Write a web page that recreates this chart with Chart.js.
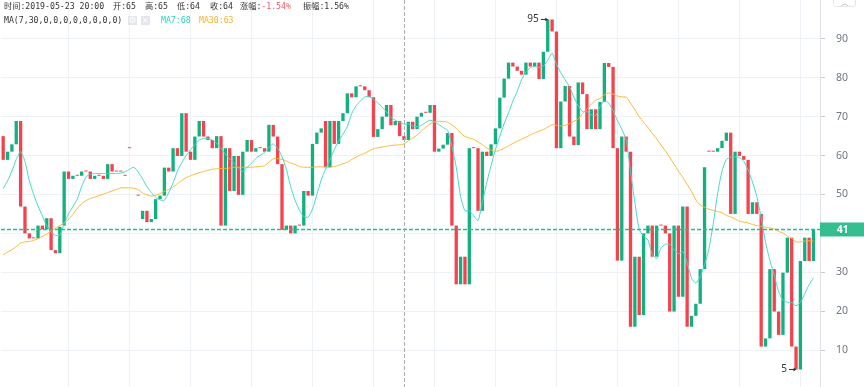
<!DOCTYPE html>
<html>
<head>
<meta charset="utf-8">
<script src="https://cdn.jsdelivr.net/npm/chart.js@4.4.1/dist/chart.umd.min.js"></script>
<style>
  html, body { margin: 0; padding: 0; background: #fff; overflow: hidden; }
  #wrap { position: relative; width: 864px; height: 387px; }
  #chart { position: absolute; left: 0; top: 0; }
  .hd { position: absolute; font-family: "DejaVu Sans Mono", "Noto Sans CJK SC", monospace; font-size: 8.2px; line-height: 13px; color: #333; white-space: nowrap; }
  .ico { position: absolute; top: 16px; width: 9px; height: 9px; background: #e3e7ec; color: #fff; font: 9px/9px "DejaVu Sans", sans-serif; text-align: center; }
  #upbtn { position: absolute; left: 833px; top: -4px; width: 21px; height: 9px; border: 1px solid #e3e6ea; border-radius: 3px; color: #9aa3ad; font: 8px/14px "DejaVu Sans", sans-serif; text-align: center; }
</style>
</head>
<body>
<div id="wrap">
  <canvas id="chart" width="864" height="387"></canvas>
  <div class="hd" style="left:4px;top:0">时间:2019-05-23 20:00</div>
  <div class="hd" style="left:113px;top:0">开:65</div>
  <div class="hd" style="left:145px;top:0">高:65</div>
  <div class="hd" style="left:177px;top:0">低:64</div>
  <div class="hd" style="left:210px;top:0">收:64</div>
  <div class="hd" style="left:240px;top:0">涨幅:<span style="color:#f05a64">-1.54%</span></div>
  <div class="hd" style="left:303px;top:0">振幅:1.56%</div>
  <div class="hd" style="left:4px;top:13.5px">MA(7,30,0,0,0,0,0,0,0,0)</div>
  <div class="ico" style="left:128px">⚙</div>
  <div class="ico" style="left:141px">×</div>
  <div class="hd" style="left:161px;top:13.5px;color:#2cd2bd">MA7:68</div>
  <div class="hd" style="left:199px;top:13.5px;color:#f7b12c">MA30:63</div>
  <div id="upbtn">︿</div>
</div>
<script>
// ==============================
// Data
// ==============================
const opens = [
  65.0, 58.9, 61.0, 62.9, 68.9, 46.9, 40.0, 38.7, 38.7, 42.0,
  41.0, 43.9, 35.7, 34.9, 42.0, 55.9, 54.0, 54.8, 54.8, 55.9,
  55.9, 54.0, 54.8, 54.8, 54.0, 57.8, 55.9, 55.9, 54.8, 61.9,
  null, 49.7, 43.7, 45.8, 42.9, 43.7, 48.8, 49.7, 56.9, 55.9,
  61.9, 59.9, 70.9, 61.0, 58.9, 64.9, 68.9, 64.9, 64.0, 61.9,
  65.0, 42.0, 61.9, 50.9, 59.9, 49.9, 61.0, 64.0, 61.0, 61.9,
  61.9, 61.0, 67.9, 64.9, 57.8, 40.9, 42.0, 40.0, 42.0, 42.0,
  50.9, 49.7, 63.0, 65.9, 68.9, 57.0, 68.9, 63.0, 68.9, 70.9,
  76.0, 75.0, 77.8, 77.8, 76.8, 75.0, 64.8, 66.8, 70.0, 73.0,
  67.8, 68.9, 65.0, 64.0, 68.7, 66.8, 70.0, 71.0, 71.0, 73.0,
  61.0, 61.8, 62.8, 65.8, 42.0, 26.9, 34.0, 26.9, 61.9, 61.9,
  45.8, 61.0, 59.9, 62.9, 67.0, 74.9, 79.8, 83.9, 82.9, 81.8,
  80.8, 83.9, 82.9, 83.9, 79.7, 86.7, 95.0, 91.9, 61.9, 73.9,
  77.9, 64.9, 62.7, 78.8, 75.8, 66.8, 71.9, 66.8, 73.8, 83.8,
  82.8, 61.9, 33.0, 64.9, 61.0, 16.0, 34.0, 19.0, 40.0, 42.0,
  34.0, 42.0, 42.0, 40.0, 19.9, 42.0, 23.7, 46.9, 16.0, 18.8,
  21.9, 30.8, 61.0, 61.0, 61.0, 61.9, 63.8, 65.9, 45.0, 61.0,
  59.9, 58.9, 45.0, 48.0, 45.0, 10.9, 13.0, 30.8, 19.9, 13.9,
  29.9, 38.9, 10.9, 5.0, 32.9, 38.9, 32.9
];
const closes = [
  58.9, 61.0, 62.9, 68.9, 46.9, 40.0, 38.7, 38.7, 42.0, 41.0,
  43.9, 35.7, 34.9, 41.7, 55.9, 54.0, 54.8, 54.8, 55.9, 55.9,
  54.0, 54.8, 54.8, 54.0, 57.8, 55.9, 55.9, 55.9, 54.8, 61.9,
  null, 49.7, 45.8, 42.9, 43.7, 48.8, 49.7, 56.9, 55.9, 61.9,
  59.9, 70.9, 61.0, 58.9, 64.9, 68.9, 64.9, 64.0, 61.9, 65.0,
  42.0, 61.9, 50.9, 59.9, 49.9, 61.0, 64.0, 61.0, 61.9, 61.9,
  61.0, 67.9, 64.9, 57.8, 40.9, 42.0, 40.0, 42.0, 42.0, 50.9,
  49.7, 63.0, 65.9, 67.0, 57.0, 68.9, 63.0, 68.9, 70.9, 76.0,
  75.0, 77.8, 77.8, 76.8, 75.0, 64.8, 66.8, 70.0, 73.0, 67.8,
  68.9, 65.0, 64.0, 68.7, 66.8, 70.0, 71.0, 71.0, 73.0, 61.0,
  61.8, 62.8, 65.8, 42.0, 26.9, 34.0, 26.9, 61.9, 61.9, 45.8,
  61.0, 59.9, 62.9, 67.0, 74.9, 79.8, 83.9, 82.9, 81.8, 80.8,
  83.9, 82.9, 83.9, 79.7, 86.7, 95.0, 91.9, 61.9, 73.9, 77.9,
  64.9, 62.7, 78.8, 75.8, 66.8, 71.9, 66.8, 73.8, 83.8, 82.8,
  61.9, 33.0, 64.9, 61.0, 16.0, 34.0, 19.0, 40.0, 42.0, 34.0,
  42.0, 42.0, 40.0, 19.9, 42.0, 23.7, 46.9, 16.0, 18.8, 21.9,
  30.8, 57.0, 61.0, 61.0, 61.9, 63.8, 65.9, 45.0, 61.0, 59.9,
  58.9, 45.0, 48.0, 45.0, 10.9, 13.0, 30.8, 19.9, 13.9, 29.9,
  38.9, 10.9, 5.0, 32.9, 38.9, 32.9, 41.0
];
const ma7 = [
  51.5, 53.5, 56, 59, 61, 58.5, 53.5, 50, 47, 44.5,
  42, 40.3, 39.5, 39.5, 42.5, 45, 46.9, 48.8, 52, 54.5,
  55.2, 55.4, 55.4, 55.4, 55.4, 55.4, 55.4, 55.5, 55.8, 56.5,
  57, 55.8, 54, 52, 50.5, 49.3, 48.6, 48.5, 50.5, 53,
  56, 58.2, 60, 61.5, 62.8, 64, 64.4, 64.4, 64, 63.2,
  61.8, 60.4, 59.1, 58, 56.8, 55.9, 57, 58, 59.3, 60.1,
  60.8, 62.1, 63, 61.8, 59.8, 56.5, 52, 48.5, 46, 44.3,
  44.2, 46.2, 50, 53.7, 56.5, 58.9, 61.5, 63.8, 65.5, 67.5,
  70.8, 72.8, 74, 75.1, 75.2, 74.5, 73.5, 72.5, 71.2, 69.8,
  69.1, 68.5, 68.1, 68.1, 67.6, 67.4, 67.8, 68.5, 69.1, 68.7,
  68, 67.2, 66.5, 62.5, 57, 49.5, 45.8, 45.8, 44.5, 43.3,
  48, 53, 57.5, 61.5, 65, 68.2, 71, 74, 76.5, 79.5,
  81.5, 82.6, 82.9, 82.6, 83, 84.5, 86.3, 83.5, 81.3, 79.5,
  77.7, 75, 72.8, 71.3, 71.3, 70.5, 70.3, 72.6, 74, 73.5,
  71.5, 69, 66.8, 64, 56, 48, 41, 39.3, 38.3, 34.6,
  33.5, 36.2, 37.2, 37.2, 35.8, 34.8, 35.3, 32.5, 28.5, 27.2,
  28.8, 32, 36, 42.5, 50.3, 56, 59, 59.6, 59.7, 59.5,
  58.5, 56.3, 53.2, 49.5, 44, 37.7, 33, 29.3, 25, 22.8,
  22.3, 22.2, 21.4, 22.2, 24.5, 26.8, 28.5
];
const ma30 = [
  34.5, 35.2, 35.8, 36.6, 37.5, 37.8, 37.9, 38.2, 38.6, 39.2,
  39.8, 40.6, 41.3, 42, 42.7, 43.6, 44.9, 46.4, 47.6, 48.4,
  49, 49.3, 49.7, 50.1, 50.5, 50.9, 51.3, 51.7, 51.7, 51.7,
  51.6, 51.2, 50.4, 49.9, 49.6, 49.8, 50.2, 50.8, 51.3, 51.9,
  52.8, 53.6, 54.3, 54.8, 55.2, 55.6, 55.9, 56.2, 56.5, 56.6,
  56.7, 56.7, 56.8, 57, 57, 57, 57, 57, 57.1, 57.2,
  57.4, 58.3, 59.2, 59.2, 59, 58.6, 58.1, 57.7, 57.2, 57,
  57, 57, 57.1, 57.1, 57, 57, 57.2, 57.5, 57.9, 58.3,
  59, 59.6, 60.2, 60.6, 61.2, 61.7, 62, 62.2, 62.4, 62.6,
  62.7, 62.8, 63, 63.8, 64.5, 65.3, 66.3, 67.3, 68.1, 68.7,
  68.8, 68.8, 68.6, 67.9, 67, 65.8, 64.9, 64.5, 64.2, 63.5,
  62.8, 62, 61.4, 61.1, 61.3, 61.9, 62.5, 63.1, 63.7, 64.2,
  64.7, 65.3, 65.8, 66.3, 66.7, 67.3, 67.9, 67.8, 67.6, 67.8,
  68.2, 68.8, 69.4, 70.8, 72, 73.2, 74.2, 74.7, 75.6, 76.1,
  75.8, 75.3, 75.1, 75, 73.5, 71.8, 70, 68.6, 67.2, 65.7,
  64.3, 62.7, 61.2, 59.5, 57.8, 56, 54.4, 52.6, 50.8, 48.6,
  47.3, 46.7, 46.2, 45.9, 45.6, 45.3, 44.6, 44.2, 43.7, 43.1,
  42.9, 42.7, 42.3, 42, 41.8, 41.6, 41.4, 41.1, 40.5, 40.1,
  39.3, 38.7, 37.8, 37.8, 38, 38.1, 38.1
];
// one spare slot on the right, like the original
const labels = Array.from({ length: opens.length + 1 }, (_, i) => String(i));
const yTicks = [10, 20, 30, 40, 50, 60, 70, 80, 90];
const crossIndex = 92;

// ==============================
// Colours
// ==============================
const upColor = "#12b07f";
const downColor = "#f4434f";
const gridColor = "#eef1f5";
const priceColor = "rgb(34,190,140)";

const candleData = opens.map((o, i) => (o === null ? null : [o, closes[i]]));
const candleColors = opens.map((o, i) => (closes[i] > o ? upColor : downColor));

// high / low markers and last price come from the data
let hiIdx = 0, loIdx = 0;
opens.forEach((o, i) => {
  if (o === null) return;
  if (Math.max(o, closes[i]) > Math.max(opens[hiIdx], closes[hiIdx])) hiIdx = i;
  if (Math.min(o, closes[i]) < Math.min(opens[loIdx], closes[loIdx])) loIdx = i;
});
const hiVal = Math.max(opens[hiIdx], closes[hiIdx]);
const loVal = Math.min(opens[loIdx], closes[loIdx]);
const lastPrice = closes[closes.length - 1];

// ==============================
// Overlay: crosshair, price line, markers
// ==============================
const overlay = {
  id: "overlay",
  afterDatasetsDraw(chart) {
    const { ctx, chartArea, scales } = chart;
    const x = scales.x, y = scales.y;
    ctx.save();
    // last price dashed line
    const py = y.getPixelForValue(lastPrice);
    ctx.setLineDash([4, 2]);
    ctx.strokeStyle = priceColor;
    ctx.lineWidth = 1.3;
    ctx.beginPath();
    ctx.moveTo(chartArea.left, py);
    ctx.lineTo(chartArea.right, py);
    ctx.stroke();
    // crosshair
    const cx = Math.round(x.getPixelForValue(crossIndex)) + 0.5;
    ctx.setLineDash([4, 2]);
    ctx.lineWidth = 1;
    ctx.strokeStyle = "#a9adb3";
    ctx.beginPath();
    ctx.moveTo(cx, 0);
    ctx.lineTo(cx, chart.height);
    ctx.stroke();
    ctx.setLineDash([]);
    // high / low marks
    ctx.font = "10px 'Noto Sans', sans-serif";
    ctx.fillStyle = "#333";
    ctx.strokeStyle = "#333";
    ctx.textAlign = "right";
    ctx.textBaseline = "middle";
    [[hiIdx, hiVal], [loIdx, loVal]].forEach(([i, v]) => {
      const mx = x.getPixelForValue(i);
      const my = y.getPixelForValue(v);
      ctx.beginPath();
      ctx.moveTo(mx - 7, my);
      ctx.lineTo(mx, my);
      ctx.stroke();
      ctx.beginPath();
      ctx.moveTo(mx, my);
      ctx.lineTo(mx - 2.5, my - 2);
      ctx.lineTo(mx - 2.5, my + 2);
      ctx.closePath();
      ctx.fill();
      ctx.fillText(String(Math.round(v)), mx - 9, my);
    });
    ctx.restore();
  },
  afterDraw(chart) {
    const { ctx, chartArea, scales } = chart;
    const py = scales.y.getPixelForValue(lastPrice);
    ctx.save();
    ctx.fillStyle = "rgba(38,186,137,0.93)";
    ctx.fillRect(chartArea.right, py - 7, chart.width - chartArea.right, 14);
    ctx.fillStyle = "#fff";
    ctx.font = "bold 10px 'Noto Sans', sans-serif";
    ctx.textAlign = "left";
    ctx.textBaseline = "middle";
    ctx.fillText(String(Math.round(lastPrice)), chartArea.right + 17, py + 0.5);
    ctx.restore();
  }
};

// no label padding above/below the plot
function noPad(s) {
  s.paddingTop = 0;
  s.paddingBottom = 0;
  s.paddingLeft = 0;
  s.paddingRight = 0;
}

// ==============================
// Chart
// ==============================
new Chart(document.getElementById("chart").getContext("2d"), {
  data: {
    labels: labels,
    datasets: [
      {
        type: "line",
        label: "MA7",
        data: ma7,
        borderColor: "#45d9c8",
        borderWidth: 1,
        pointRadius: 0,
        tension: 0.2,
        order: 1
      },
      {
        type: "line",
        label: "MA30",
        data: ma30,
        borderColor: "#fbb731",
        borderWidth: 1,
        pointRadius: 0,
        tension: 0.2,
        order: 2
      },
      {
        type: "bar",
        label: "K",
        data: candleData,
        backgroundColor: candleColors,
        borderWidth: 0,
        borderSkipped: false,
        barPercentage: 0.76,
        categoryPercentage: 1,
        minBarLength: 1,
        order: 3
      }
    ]
  },
  options: {
    responsive: false,
    animation: false,
    events: [],
    layout: { autoPadding: false, padding: { left: 1, right: 0, top: 0, bottom: 0 } },
    plugins: { legend: { display: false }, tooltip: { enabled: false } },
    scales: {
      x: {
        type: "category",
        offset: true,
        ticks: { display: false, autoSkip: false },
        border: { display: false },
        grid: {
          offset: false,
          drawTicks: false,
          color: (c) => (c.index >= 15 && (c.index - 15) % 14 === 0 ? gridColor : "transparent")
        },
        afterFit: (s) => { s.height = 0; noPad(s); }
      },
      y: {
        position: "right",
        min: 0.5,
        max: 100,
        afterFit: (s) => { s.width = 44; noPad(s); },
        border: { display: true, color: "#dfe2e6" },
        grid: {
          color: (c) => (c.tick && yTicks.includes(c.tick.value) ? gridColor : "transparent"),
          tickColor: (c) => (c.tick && yTicks.includes(c.tick.value) ? "#c9cdd3" : "transparent"),
          tickLength: 5
        },
        ticks: {
          stepSize: 10,
          padding: 11,
          color: "#6f7782",
          font: { size: 10.5, family: "'Noto Sans', sans-serif" },
          callback: (v) => (yTicks.includes(v) ? String(v) : null)
        }
      }
    }
  },
  plugins: [overlay]
});
</script>
</body>
</html>
